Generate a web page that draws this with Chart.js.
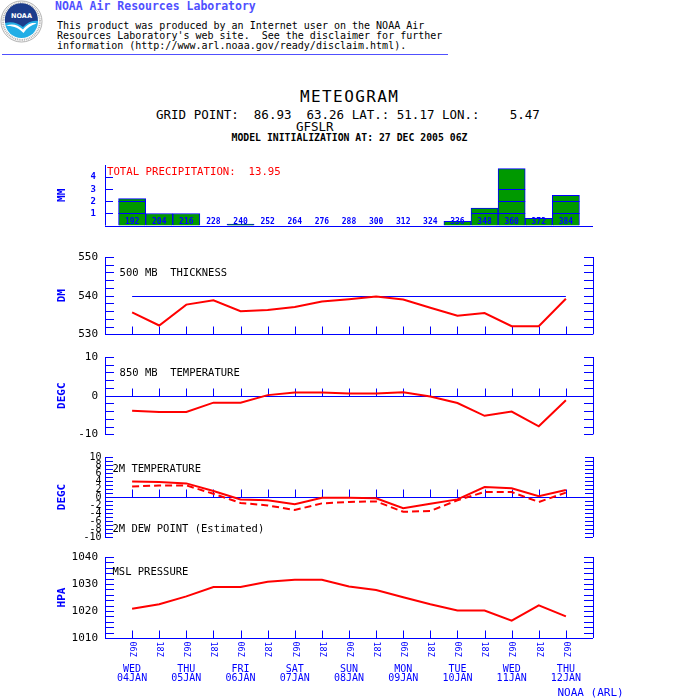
<!DOCTYPE html>
<html>
<head>
<meta charset="utf-8">
<script src="https://cdn.jsdelivr.net/npm/chart.js@4.4.1/dist/chart.umd.min.js"></script>
<style>
body { margin: 0; background: #fff; width: 700px; height: 700px; position: relative; overflow: hidden; font-family: 'DejaVu Sans Mono', monospace; }
.t { position: absolute; white-space: pre; line-height: 1.2; color: #000; }
canvas { position: absolute; left: 0; }
</style>
</head>
<body>

<svg width="44" height="44" viewBox="0 0 44 44" style="position:absolute;left:0;top:0">
  <circle cx="21.5" cy="21.5" r="20.5" fill="#fff" stroke="#9a9a9a" stroke-width="0.8"/>
  <circle cx="21.5" cy="21.5" r="18.4" fill="none" stroke="#b4b4b4" stroke-width="2" stroke-dasharray="1 0.8"/>
  <circle cx="21.5" cy="21.5" r="16.5" fill="#22aee6"/>
  <path d="M5.2 23 A16.5 16.5 0 1 1 37.8 21 C33 20 28 22 23 27 C18 23 11 21 5.2 23 Z" fill="#1c3c8c"/>
  <path d="M6 26 C12 23 18 25 23 29.5 C27 25 31 22 36.5 23.5 C31 25 27 28 23.5 33 C19 28 13 25.5 6 26 Z" fill="#fff"/>
  <text x="21.5" y="17.5" font-family="DejaVu Sans" font-size="6.5" font-weight="bold" fill="#fff" text-anchor="middle">NOAA</text>
</svg>

<div class="t" style="left:55px;top:0px;font-size:11.5px;font-weight:bold;color:#5050ff">NOAA Air Resources Laboratory</div>
<div class="t" style="left:57px;top:20.5px;font-size:10px;line-height:10px">This product was produced by an Internet user on the NOAA Air
Resources Laboratory's web site.  See the disclaimer for further
information (http://www.arl.noaa.gov/ready/disclaim.html).</div>
<div style="position:absolute;left:2px;top:54px;width:446px;height:1px;background:#5050ff"></div>

<div class="t" style="left:300px;top:87px;font-size:16px;letter-spacing:1.4px">METEOGRAM</div>
<div class="t" style="left:156px;top:107.2px;font-size:12.5px">GRID POINT:  86.93  63.26 LAT.: 51.17 LON.:    5.47</div>
<div class="t" style="left:296px;top:119.2px;font-size:12.5px">GFSLR</div>
<div class="t" style="left:231.5px;top:132px;font-size:9.8px;font-weight:bold">MODEL INITIALIZATION AT: 27 DEC 2005 06Z</div>

<canvas id="precipChart" width="700" height="90" style="top:150px"></canvas>
<canvas id="thickChart" width="700" height="106" style="top:242px"></canvas>
<canvas id="t850Chart" width="700" height="106" style="top:342px"></canvas>
<canvas id="t2mChart" width="700" height="105" style="top:442px"></canvas>
<canvas id="mslpChart" width="700" height="158" style="top:542px"></canvas>

<script>
const BLUE = '#0000ff';
const RED = '#ff0000';
const GREEN = '#009900';
const FONT = "'DejaVu Sans Mono', monospace";

// forecast hours after 27 Dec 2005 06Z, one per 12 h step
const hours = [192, 204, 216, 228, 240, 252, 264, 276, 288, 300, 312, 324, 336, 348, 360, 372, 384];
const runTimes = ['06Z', '18Z', '06Z', '18Z', '06Z', '18Z', '06Z', '18Z', '06Z', '18Z', '06Z', '18Z', '06Z', '18Z', '06Z', '18Z', '06Z'];
const dayNames = ['WED', 'THU', 'FRI', 'SAT', 'SUN', 'MON', 'TUE', 'WED', 'THU'];
const dayDates = ['04JAN', '05JAN', '06JAN', '07JAN', '08JAN', '09JAN', '10JAN', '11JAN', '12JAN'];

const precip = [2.22, 1.0, 1.0, 0, 0.13, 0, 0, 0, 0, 0, 0, 0, 0.36, 1.44, 4.7, 0.6, 2.5];
const thickness = [535.7, 532.3, 537.7, 538.8, 536.0, 536.3, 537.1, 538.5, 539.1, 539.8, 539.0, 536.9, 534.8, 535.5, 532.1, 532.1, 539.2];
const temp850 = [-3.9, -4.2, -4.2, -1.8, -1.8, 0.15, 0.8, 0.8, 0.6, 0.6, 0.9, -0.2, -1.9, -5.2, -4.1, -7.9, -1.2];
const temp2m = [3.9, 3.75, 3.4, 1.5, -0.6, -0.8, -1.8, -0.2, -0.2, -0.3, -2.8, -1.7, -0.6, 2.5, 2.2, 0.2, 1.75];
const dew2m = [2.6, 2.9, 2.9, 0.8, -1.5, -2.1, -3.25, -1.6, -1.25, -1.1, -3.7, -3.5, -0.8, 1.25, 1.25, -1.25, 1.1];
const mslp = [1020.8, 1022.5, 1025.4, 1028.9, 1028.9, 1030.8, 1031.6, 1031.6, 1029.1, 1027.8, 1025.1, 1022.5, 1020.2, 1020.2, 1016.4, 1022.1, 1018.0];

const toXY = arr => arr.map((v, i) => ({ x: i, y: v }));

// axes in blue, ticks pointing into the plot
const framePlugin = {
    id: 'frame',
    beforeDatasetsDraw(chart, args, o) {
        const { ctx, chartArea: a, scales: { x, y } } = chart;
        const c = v => Math.round(v) + 0.5;
        ctx.save();
        ctx.strokeStyle = BLUE;
        ctx.lineWidth = 1;
        ctx.beginPath();
        ctx.moveTo(c(a.left), a.top); ctx.lineTo(c(a.left), a.bottom);
        if (o.right) { ctx.moveTo(c(a.right), a.top); ctx.lineTo(c(a.right), a.bottom); }
        for (let v = o.tickFrom; v <= o.tickTo + 1e-9; v += o.tickStep) {
            const yy = c(y.getPixelForValue(v));
            ctx.moveTo(a.left, yy); ctx.lineTo(a.left + o.tickLen, yy);
            if (o.right) { ctx.moveTo(a.right - o.tickLen, yy); ctx.lineTo(a.right, yy); }
        }
        if (o.base !== undefined) {
            const yb = c(y.getPixelForValue(o.base));
            ctx.moveTo(a.left, yb); ctx.lineTo(a.right, yb);
            if (o.xTicks) {
                hours.forEach((h, i) => {
                    const xx = c(x.getPixelForValue(i));
                    ctx.moveTo(xx, yb); ctx.lineTo(xx, yb - 8);
                });
            }
        }
        if (o.ref !== undefined) {
            const yr = c(y.getPixelForValue(o.ref));
            ctx.moveTo(x.getPixelForValue(0), yr);
            ctx.lineTo(x.getPixelForValue(hours.length - 1), yr);
        }
        ctx.stroke();
        ctx.restore();
    }
};

// panel captions inside the plot area
const notesPlugin = {
    id: 'notes',
    afterDraw(chart, args, o) {
        const { ctx, chartArea: a } = chart;
        ctx.save();
        ctx.textAlign = 'left';
        ctx.textBaseline = 'middle';
        (o.items || []).forEach(n => {
            ctx.fillStyle = n.color || '#000';
            ctx.font = `${n.size || 10.5}px ${FONT}`;
            ctx.fillText(n.text, a.left + n.dx, a.top + n.dy);
        });
        ctx.restore();
    }
};

const precipPlugin = {
    id: 'precipMarks',
    afterDatasetsDraw(chart) {
        const { ctx, scales: { y } } = chart;
        const bars = chart.getDatasetMeta(0).data;
        ctx.save();
        ctx.strokeStyle = BLUE;
        ctx.lineWidth = 1;
        ctx.beginPath();
        bars.forEach((b, i) => {
            [1, 2, 3].forEach(level => {
                if (precip[i] > level) {
                    const yy = Math.round(y.getPixelForValue(level)) + 0.5;
                    ctx.moveTo(b.x - b.width / 2, yy);
                    ctx.lineTo(b.x + b.width / 2, yy);
                }
            });
        });
        ctx.stroke();
        ctx.fillStyle = BLUE;
        ctx.font = `bold 8px ${FONT}`;
        ctx.textAlign = 'center';
        ctx.textBaseline = 'middle';
        const y0 = y.getPixelForValue(0);
        bars.forEach((b, i) => ctx.fillText(String(hours[i]), b.x, y0 - 4));
        ctx.restore();
    }
};

const timeAxisPlugin = {
    id: 'timeAxis',
    afterDraw(chart) {
        const { ctx, chartArea: a, scales: { x } } = chart;
        ctx.save();
        ctx.fillStyle = BLUE;
        ctx.font = `8.5px ${FONT}`;
        ctx.textAlign = 'left';
        ctx.textBaseline = 'middle';
        runTimes.forEach((t, i) => {
            ctx.save();
            ctx.translate(x.getPixelForValue(i), a.bottom + 3.5);
            ctx.rotate(Math.PI / 2);
            ctx.fillText(t, 0, 0);
            ctx.restore();
        });
        ctx.font = `10px ${FONT}`;
        ctx.textAlign = 'center';
        dayNames.forEach((d, i) => {
            const xx = x.getPixelForValue(i * 2);
            ctx.fillText(d, xx, a.bottom + 31);
            ctx.fillText(dayDates[i], xx, a.bottom + 40);
        });
        ctx.textAlign = 'left';
        ctx.font = `11px ${FONT}`;
        ctx.fillText('NOAA (ARL)', a.right - 35.5, a.bottom + 55);
        ctx.restore();
    }
};

function yAxis(min, max, step, title, extra) {
    extra = extra || {};
    return {
        min: min,
        max: max,
        ticks: {
            stepSize: step,
            autoSkip: false,
            padding: extra.pad !== undefined ? extra.pad : 7,
            color: extra.color || '#000',
            font: { family: FONT, size: extra.size || 11, weight: extra.weight || 'normal' },
            callback: extra.cb || (v => String(v))
        },
        grid: { display: false, drawTicks: false },
        border: { display: false },
        title: {
            display: true, text: title, color: BLUE,
            font: { family: FONT, size: 11, weight: 'bold' },
            padding: { top: 4, bottom: 4 }
        },
        afterFit(s) { s.width = 53; }
    };
}

const xAxis = { type: 'linear', min: -1, max: 17, offset: false, display: false };

function baseOptions(padTop, padBottom, yScale, frame, notes) {
    return {
        responsive: false,
        animation: false,
        events: [],
        layout: { padding: { left: 52, right: 107, top: padTop, bottom: padBottom } },
        scales: { x: xAxis, y: yScale },
        plugins: {
            legend: { display: false },
            tooltip: { enabled: false },
            frame: frame,
            notes: { items: notes }
        }
    };
}

function redLine(values, dash) {
    return {
        data: toXY(values),
        borderColor: RED,
        borderWidth: 2,
        borderDash: dash || [],
        pointRadius: 0,
        tension: 0,
        fill: false
    };
}

new Chart(document.getElementById('precipChart'), {
    type: 'bar',
    data: {
        datasets: [{
            data: toXY(precip),
            backgroundColor: GREEN,
            borderColor: BLUE,
            borderWidth: 1,
            barPercentage: 1,
            categoryPercentage: 1
        }]
    },
    options: baseOptions(15, 10,
        yAxis(0, 5, 1, 'MM', { color: BLUE, weight: 'bold', size: 9, pad: 9, cb: v => (v >= 1 && v <= 4) ? String(v) : '' }),
        { right: false, tickFrom: 1, tickTo: 4, tickStep: 1, tickLen: 8, base: 0, xTicks: false },
        [{ text: 'TOTAL PRECIPITATION:  13.95', dx: 2, dy: 7.7, color: RED, size: 10.7 }]),
    plugins: [framePlugin, notesPlugin, precipPlugin]
});

new Chart(document.getElementById('thickChart'), {
    type: 'line',
    data: { datasets: [redLine(thickness)] },
    options: baseOptions(15, 10,
        yAxis(530, 550, 10, 'DM'),
        { right: true, tickFrom: 530, tickTo: 550, tickStep: 2, tickLen: 9, base: 530, xTicks: true, ref: 540 },
        [{ text: '500 MB  THICKNESS', dx: 14.6, dy: 16.3 }]),
    plugins: [framePlugin, notesPlugin]
});

new Chart(document.getElementById('t850Chart'), {
    type: 'line',
    data: { datasets: [redLine(temp850)] },
    options: baseOptions(15, 10,
        yAxis(-10, 10, 10, 'DEGC'),
        { right: true, tickFrom: -10, tickTo: 10, tickStep: 2, tickLen: 9, base: 0, xTicks: true },
        [{ text: '850 MB  TEMPERATURE', dx: 14.6, dy: 16.3 }]),
    plugins: [framePlugin, notesPlugin]
});

new Chart(document.getElementById('t2mChart'), {
    type: 'line',
    data: { datasets: [redLine(temp2m), redLine(dew2m, [7, 4])] },
    options: baseOptions(15, 10,
        yAxis(-10, 10, 2, 'DEGC', { size: 10, pad: 3.5 }),
        { right: true, tickFrom: -10, tickTo: 10, tickStep: 1, tickLen: 8, base: 0, xTicks: true },
        [{ text: '2M TEMPERATURE', dx: 7.5, dy: 12.7 },
         { text: '2M DEW POINT (Estimated)', dx: 7.5, dy: 72.7 }]),
    plugins: [framePlugin, notesPlugin]
});

new Chart(document.getElementById('mslpChart'), {
    type: 'line',
    data: { datasets: [redLine(mslp)] },
    options: baseOptions(15, 62,
        yAxis(1010, 1040, 10, 'HPA'),
        { right: true, tickFrom: 1010, tickTo: 1040, tickStep: 2, tickLen: 9, base: 1010, xTicks: true },
        [{ text: 'MSL PRESSURE', dx: 7.5, dy: 15.6 }]),
    plugins: [framePlugin, notesPlugin, timeAxisPlugin]
});
</script>
</body>
</html>
